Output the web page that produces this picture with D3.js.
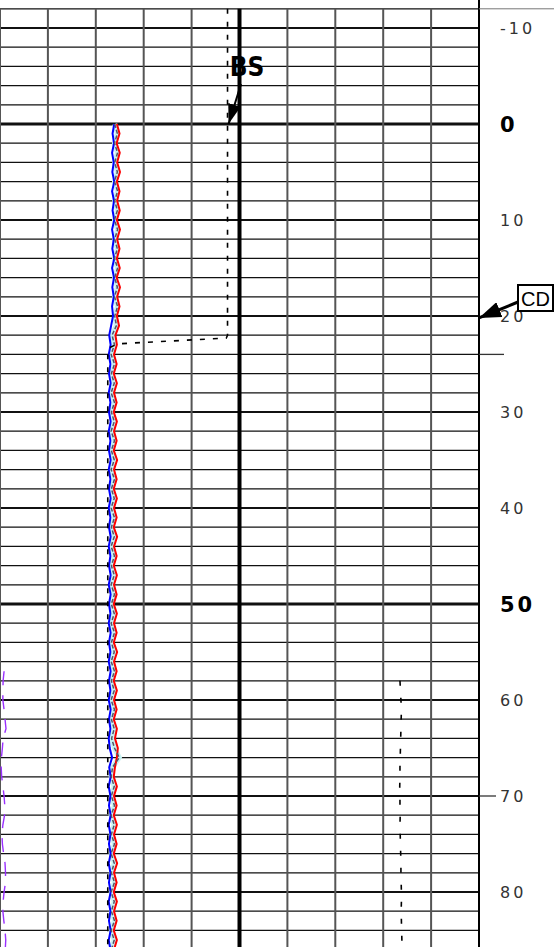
<!DOCTYPE html>
<html>
<head>
<meta charset="utf-8">
<script src="https://cdn.jsdelivr.net/npm/d3@7"></script>
<style>
  body { margin: 0; background: #fff; }
  svg { display: block; }
</style>
</head>
<body>
<script>
// Depth samples (one per unit) for the caliper curves
const depths = [0,1,2,3,4,5,6,7,8,9,10,11,12,13,14,15,16,17,18,19,20,21,22,23,24,25,26,27,28,29,
  30,31,32,33,34,35,36,37,38,39,40,41,42,43,44,45,46,47,48,49,50,51,52,53,54,55,56,57,58,59,
  60,61,62,63,64,65,66,67,68,69,70,71,72,73,74,75,76,77,78,79,80,81,82,83,84,85,86];

const calBlue = [8.77,8.70,8.76,8.68,8.75,8.69,8.77,8.68,8.76,8.70,
  8.77,8.68,8.75,8.69,8.77,8.68,8.76,8.69,8.75,8.68,
  8.72,8.64,8.56,8.62,8.54,8.61,8.55,8.62,8.54,8.61,
  8.55,8.62,8.54,8.61,8.55,8.62,8.54,8.61,8.55,8.62,
  8.54,8.61,8.55,8.62,8.54,8.61,8.55,8.62,8.54,8.62,
  8.55,8.61,8.54,8.62,8.55,8.61,8.54,8.62,8.55,8.61,
  8.54,8.62,8.55,8.61,8.54,8.58,8.68,8.56,8.62,8.54,
  8.61,8.55,8.62,8.54,8.61,8.55,8.62,8.54,8.61,8.55,
  8.62,8.54,8.61,8.55,8.62,8.54,8.61];

const calRed = [8.88,8.99,8.87,9.00,8.89,9.01,8.88,8.99,8.89,9.00,
  8.88,9.01,8.89,8.99,8.88,9.00,8.87,9.01,8.89,8.99,
  8.88,8.97,8.82,8.88,8.76,8.87,8.75,8.88,8.76,8.87,
  8.75,8.88,8.76,8.87,8.75,8.89,8.76,8.87,8.75,8.88,
  8.76,8.87,8.75,8.89,8.76,8.87,8.75,8.88,8.76,8.87,
  8.75,8.88,8.76,8.87,8.75,8.89,8.76,8.87,8.75,8.88,
  8.76,8.87,8.75,8.88,8.80,8.92,8.88,8.80,8.75,8.88,
  8.76,8.87,8.75,8.88,8.76,8.87,8.75,8.89,8.76,8.87,
  8.75,8.88,8.76,8.87,8.75,8.88,8.76];

const calGray = [8.79,8.90,8.78,8.91,8.79,8.90,8.78,8.91,8.79,8.90,
  8.78,8.91,8.79,8.90,8.78,8.91,8.79,8.90,8.78,8.91,
  8.79,8.86,8.68,8.78,8.64,8.78,8.65,8.77,8.64,8.78,
  8.65,8.77,8.64,8.78,8.65,8.77,8.64,8.78,8.65,8.77,
  8.64,8.78,8.65,8.77,8.64,8.78,8.65,8.77,8.64,8.78,
  8.65,8.77,8.64,8.78,8.65,8.77,8.64,8.78,8.65,8.77,
  8.64,8.78,8.65,8.77,8.66,8.78,8.98,8.70,8.64,8.77,
  8.65,8.78,8.64,8.77,8.65,8.78,8.64,8.77,8.65,8.78,
  8.64,8.77,8.65,8.78,8.64,8.77,8.65];

// Bit size step curve
const bsDepths = [-12, 22.0, 22.3, 22.9, 23.4, 86];
const bsValues = [13.5, 13.5, 13.45, 8.9, 8.5, 8.5];

// Right dashed curve
const rightDepths = [58,59,60,61,62,63,64,65,66,67,68,69,70,71,72,73,74,75,76,77,78,79,80,81,82,83,84,85,86];
const rightValues = [20.70,20.72,20.74,20.76,20.75,20.74,20.73,20.72,20.71,20.70,20.70,20.69,20.70,20.70,
  20.71,20.70,20.71,20.72,20.73,20.74,20.74,20.75,20.76,20.76,20.75,20.76,20.77,20.78,20.78];

// Purple dashed curve near left edge
const purpleDepths = [57,58,59,60,61,62,63,64,65,66,67,68,69,70,71,72,73,74,75,76,77,78,79,80,81,82,83,84,85,86];
const purpleValues = [4.17,4.13,4.12,4.12,4.17,4.21,4.25,4.13,4.10,4.06,4.05,4.07,4.12,4.17,4.20,
  4.19,4.12,4.08,4.10,4.15,4.21,4.23,4.23,4.17,4.13,4.12,4.16,4.21,4.24,4.22];

// Depth labels and markers
const depthLabels = [-10, 0, 10, 20, 30, 40, 50, 60, 70, 80];
const majorLabels = [0, 50];
const markerDepths = [24, 70];
const bsLabel = "BS";
const cdLabel = "CD";
const cdDepth = 20.2;

const W = 554, H = 947;
const svg = d3.select("body").append("svg").attr("width", W).attr("height", H);

const x = d3.scaleLinear().domain([4, 24]).range([0, 479]);
const y = d3.scaleLinear().domain([0, 50]).range([124, 604]);

const gridTop = y(-12);

// horizontal grid
const hLines = d3.range(-12, 86, 2);
svg.append("g").selectAll("line")
  .data(hLines).enter().append("line")
    .attr("x1", x(4)).attr("x2", x(24))
    .attr("y1", d => y(d)).attr("y2", d => y(d))
    .attr("stroke", "#111")
    .attr("stroke-width", d => d % 50 === 0 ? 3 : (d % 10 === 0 ? 2.2 : 1.3));

// vertical grid
const vLines = d3.range(4, 25, 2);
svg.append("g").selectAll("line")
  .data(vLines).enter().append("line")
    .attr("x1", d => x(d)).attr("x2", d => x(d))
    .attr("y1", d => d === 24 ? 0 : gridTop).attr("y2", H)
    .attr("stroke", d => (d === 14 || d === 24) ? "#000" : "#555")
    .attr("stroke-width", d => d === 14 ? 4 : 2);

// header separator on the right
svg.append("line")
  .attr("x1", x(24)).attr("x2", W)
  .attr("y1", gridTop).attr("y2", gridTop)
  .attr("stroke", "#777").attr("stroke-width", 1);

// markers
svg.append("g").selectAll("line")
  .data(markerDepths).enter().append("line")
    .attr("x1", x(24)).attr("x2", (d, i) => x(24) + (i === 0 ? 25 : 17))
    .attr("y1", d => y(d)).attr("y2", d => y(d))
    .attr("stroke", "#333").attr("stroke-width", 1.3);

// depth labels
svg.append("g").selectAll("text")
  .data(depthLabels).enter().append("text")
    .attr("x", 500)
    .attr("y", d => y(d) + (majorLabels.includes(d) ? 7.5 : 6))
    .attr("font-family", "DejaVu Sans")
    .attr("font-size", d => majorLabels.includes(d) ? 21 : 16)
    .attr("font-weight", d => majorLabels.includes(d) ? "bold" : "normal")
    .attr("letter-spacing", 3)
    .attr("fill", d => majorLabels.includes(d) ? "#000" : "#333")
    .text(d => d);

// curves
const line = d3.line().x(d => x(d[1])).y(d => y(d[0]));
const zip = (ds, vs) => ds.map((d, i) => [d, vs[i]]);

svg.append("path").datum(zip(depths, calGray))
  .attr("d", line).attr("fill", "none")
  .attr("stroke", "#c6f2f2").attr("stroke-width", 5);

svg.append("path").datum(zip(depths, calBlue))
  .attr("d", line).attr("fill", "none")
  .attr("stroke", "#0000ff").attr("stroke-width", 2);

svg.append("path").datum(zip(depths, calRed))
  .attr("d", line).attr("fill", "none")
  .attr("stroke", "#ff0000").attr("stroke-width", 2);

svg.append("path").datum(zip(depths, calGray))
  .attr("d", line).attr("fill", "none")
  .attr("stroke", "#556").attr("stroke-width", 1.5)
  .attr("stroke-dasharray", "4,2");

svg.append("path").datum(zip(bsDepths, bsValues))
  .attr("d", line).attr("fill", "none")
  .attr("stroke", "#000").attr("stroke-width", 1.6)
  .attr("stroke-dasharray", "5,8");

svg.append("path").datum(zip(rightDepths, rightValues))
  .attr("d", line).attr("fill", "none")
  .attr("stroke", "#000").attr("stroke-width", 1.6)
  .attr("stroke-dasharray", "5,12");

svg.append("path").datum(zip(purpleDepths, purpleValues))
  .attr("d", line).attr("fill", "none")
  .attr("stroke", "#9a30ff").attr("stroke-width", 1.4)
  .attr("stroke-dasharray", "14,10");

// arrow markers
const defs = svg.append("defs");
function addArrow(id, len, wid) {
  defs.append("marker")
    .attr("id", id).attr("viewBox", "0 0 " + len + " " + wid)
    .attr("refX", len).attr("refY", wid / 2)
    .attr("markerWidth", len).attr("markerHeight", wid)
    .attr("markerUnits", "userSpaceOnUse")
    .attr("preserveAspectRatio", "none")
    .attr("orient", "auto")
    .append("path").attr("d", "M0,0L" + len + "," + (wid / 2) + "L0," + wid + "Z").attr("fill", "#000");
}
addArrow("arrBS", 20, 13);
addArrow("arrCD", 22, 16);

// BS annotation
svg.append("text")
  .attr("x", 247).attr("y", 76)
  .attr("text-anchor", "middle")
  .attr("font-family", "DejaVu Sans Condensed, DejaVu Sans")
  .attr("font-weight", "bold")
  .attr("font-size", 26)
  .text(bsLabel);
svg.append("line")
  .attr("x1", 241).attr("y1", 84)
  .attr("x2", x(13.5) + 1).attr("y2", y(0))
  .attr("stroke", "#000").attr("stroke-width", 2)
  .attr("marker-end", "url(#arrBS)");

// CD annotation
svg.append("line")
  .attr("x1", 518).attr("y1", 302)
  .attr("x2", x(24)).attr("y2", y(cdDepth))
  .attr("stroke", "#000").attr("stroke-width", 3)
  .attr("marker-end", "url(#arrCD)");
svg.append("rect")
  .attr("x", 518).attr("y", 285).attr("width", 35).attr("height", 26)
  .attr("fill", "#fff").attr("stroke", "#000").attr("stroke-width", 2);
svg.append("text")
  .attr("x", 535.5).attr("y", 306)
  .attr("text-anchor", "middle")
  .attr("font-family", "Liberation Sans, Arial")
  .attr("font-size", 20)
  .text(cdLabel);
</script>
</body>
</html>
